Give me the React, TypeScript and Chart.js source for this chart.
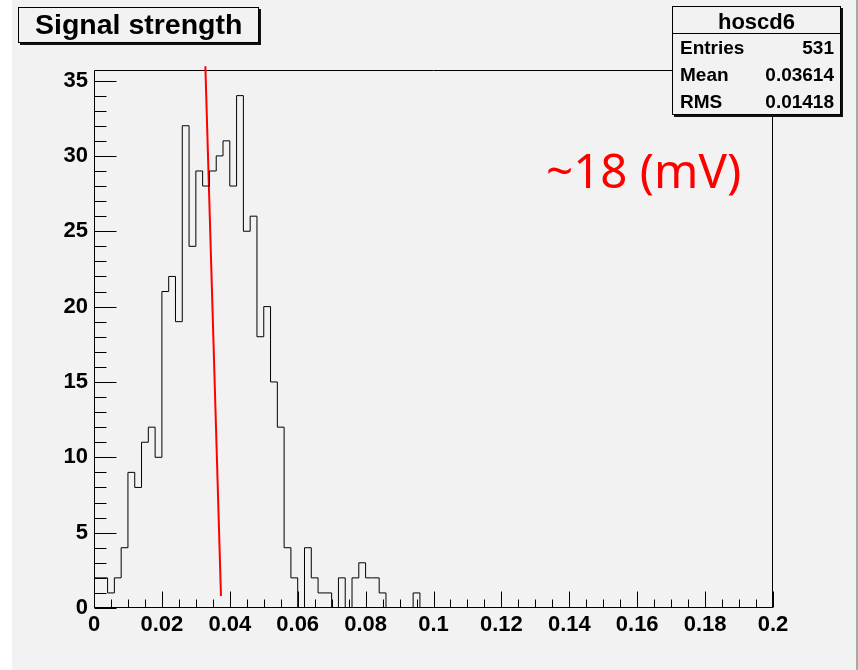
import React, { useEffect, useRef } from "react";
import { Chart, registerables } from "chart.js";

Chart.register(...registerables);

// ---- data ----
const binWidth = 0.002;
const counts = [
  2, 2, 1, 2, 4, 9, 8, 11, 12, 10,
  21, 22, 19, 32, 24, 29, 28, 29, 30, 31,
  28, 34, 25, 26, 18, 20, 15, 12, 4, 2,
  0, 4, 2, 1, 1, 0, 2, 0, 2, 3,
  2, 2, 1, 0, 0, 0, 0, 1, 0, 0,
  0, 0, 0, 0, 0, 0, 0, 0, 0, 0,
  0, 0, 0, 0, 0, 0, 0, 0, 0, 0,
  0, 0, 0, 0, 0, 0, 0, 0, 0, 0,
  0, 0, 0, 0, 0, 0, 0, 0, 0, 0,
  0, 0, 0, 0, 0, 0, 0, 0, 0, 0,
];
const xTickValues = [0, 0.02, 0.04, 0.06, 0.08, 0.1, 0.12, 0.14, 0.16, 0.18, 0.2];
const xTickLabels = ["0", "0.02", "0.04", "0.06", "0.08", "0.1", "0.12", "0.14", "0.16", "0.18", "0.2"];
const yTickValues = [0, 5, 10, 15, 20, 25, 30, 35];
const yTickLabels = ["0", "5", "10", "15", "20", "25", "30", "35"];
const xMinorStep = 0.005;
const yMinorStep = 1;
const xMax = 0.2;
const yMax = 35.7;
const markerX = [0.0328, 0.0374];
const markerY = [35.95, 0.8];
const titleText = "Signal strength";
const statsName = "hoscd6";
const statsLabels = ["Entries", "Mean", "RMS"];
const statsValues = ["531", "0.03614", "0.01418"];
const noteText = "~18 (mV)";

const W = 858;
const H = 670;
const BG = "#f2f2f2";

const axisTicksPlugin = {
  id: "axisTicks",
  beforeDatasetsDraw(chart: any) {
    const { ctx, chartArea: a, scales } = chart;
    const xs = scales.x;
    const ys = scales.y;
    ctx.save();
    ctx.strokeStyle = "#000";
    ctx.lineWidth = 1;
    ctx.beginPath();
    const L = Math.round(a.left) + 0.5;
    const R = Math.round(a.right) - 0.5;
    const T = Math.round(a.top) + 0.5;
    const B = Math.round(a.bottom) - 0.5;
    ctx.rect(L, T, R - L, B - T);
    // x ticks
    const nx = Math.round(xMax / xMinorStep);
    for (let k = 0; k <= nx; k++) {
      const v = k * xMinorStep;
      const px = Math.round(xs.getPixelForValue(v)) + 0.5;
      const len = k % 4 === 0 ? 16 : 8;
      ctx.moveTo(px, B);
      ctx.lineTo(px, B - len);
    }
    // y ticks
    const ny = Math.floor(yMax / yMinorStep);
    for (let k = 0; k <= ny; k++) {
      const v = k * yMinorStep;
      const py = Math.round(ys.getPixelForValue(v)) + 0.5;
      const len = k % 5 === 0 ? 22 : 12;
      ctx.moveTo(L, py);
      ctx.lineTo(L + len, py);
    }
    ctx.stroke();
    ctx.restore();
  },
};

export default function App() {
  const ref = useRef<HTMLCanvasElement | null>(null);

  useEffect(() => {
    if (!ref.current) return;
    const histPoints = counts.map((c, i) => ({ x: i * binWidth, y: c }));
    histPoints.push({ x: counts.length * binWidth, y: 0 });
    const markerPoints = markerX.map((x, i) => ({ x, y: markerY[i] }));
    const tickFont = { family: "'Liberation Sans', Arial, sans-serif", size: 22, weight: "bold" as const };

    const chart = new Chart(ref.current, {
      type: "line",
      data: {
        datasets: [
          {
            data: histPoints,
            borderColor: "#000",
            borderWidth: 1,
            pointRadius: 0,
            stepped: "before",
            fill: false,
          },
          {
            data: markerPoints,
            borderColor: "#ff0000",
            borderWidth: 2,
            pointRadius: 0,
            fill: false,
            clip: false,
          } as any,
        ],
      },
      options: {
        animation: false,
        responsive: false,
        devicePixelRatio: 1,
        layout: { padding: { top: 70, right: 85, left: 0, bottom: 0 } },
        plugins: { legend: { display: false }, tooltip: { enabled: false }, title: { display: false } },
        scales: {
          x: {
            type: "linear",
            min: 0,
            max: xMax,
            grid: { display: false, drawTicks: false },
            border: { display: false },
            afterFit: (s: any) => { s.height = 62; },
            afterBuildTicks: (s: any) => { s.ticks = xTickValues.map((v) => ({ value: v })); },
            ticks: {
              autoSkip: false,
              maxRotation: 0,
              padding: 4,
              color: "#000",
              font: tickFont,
              callback: (_v: any, i: number) => xTickLabels[i],
            },
          },
          y: {
            type: "linear",
            min: 0,
            max: yMax,
            grid: { display: false, drawTicks: false },
            border: { display: false },
            afterFit: (s: any) => { s.width = 94; },
            afterBuildTicks: (s: any) => { s.ticks = yTickValues.map((v) => ({ value: v })); },
            ticks: {
              padding: 6,
              color: "#000",
              font: tickFont,
              callback: (_v: any, i: number) => yTickLabels[i],
            },
          },
        },
      },
      plugins: [axisTicksPlugin],
    } as any);
    return () => chart.destroy();
  }, []);

  const sans = "'Liberation Sans', Arial, sans-serif";
  const span = (style: React.CSSProperties, text: string, key?: string) => (
    <span key={key} style={{ position: "absolute", lineHeight: 1, whiteSpace: "nowrap", ...style }}>{text}</span>
  );

  return (
    <div style={{ position: "fixed", left: 0, top: 0, width: W, height: H, background: "#fff", overflow: "hidden" }}>
      <div style={{ position: "absolute", left: 12, top: 0, width: 844, height: H, background: BG, borderRight: "2px solid #a8a8a8" }} />
      <canvas ref={ref} width={W} height={H} style={{ position: "absolute", left: 0, top: 0, width: W, height: H }} />
      {/* title box */}
      <div style={{ position: "absolute", left: 18, top: 7, width: 239, height: 34, border: "1px solid #000", background: BG, boxShadow: "2px 2px 0 #111" }} />
      {span({ left: 35, top: 8, font: `bold 28.5px ${sans}`, color: "#000" }, titleText)}
      {/* stats box */}
      <div style={{ position: "absolute", left: 672, top: 6, width: 167, height: 107, border: "1px solid #000", background: BG, boxShadow: "2px 2px 0 #111" }} />
      <div style={{ position: "absolute", left: 673, top: 33, width: 167, height: 1, background: "#000" }} />
      <div style={{ position: "absolute", left: 672, top: 11, width: 169, textAlign: "center", font: `bold 22px ${sans}`, lineHeight: 1, color: "#000" }}>{statsName}</div>
      {statsLabels.map((l, i) => span({ left: 680, top: 37 + i * 27, font: `bold 19px ${sans}`, color: "#000" }, l, "l" + i))}
      {statsValues.map((v, i) => span({ right: W - 834, top: 37 + i * 27, font: `bold 19px ${sans}`, color: "#000" }, v, "v" + i))}
      {/* red annotation */}
      {span({ left: 546, top: 137, font: `47.5px 'Noto Sans', sans-serif`, color: "#ff0000" }, noteText)}
    </div>
  );
}
